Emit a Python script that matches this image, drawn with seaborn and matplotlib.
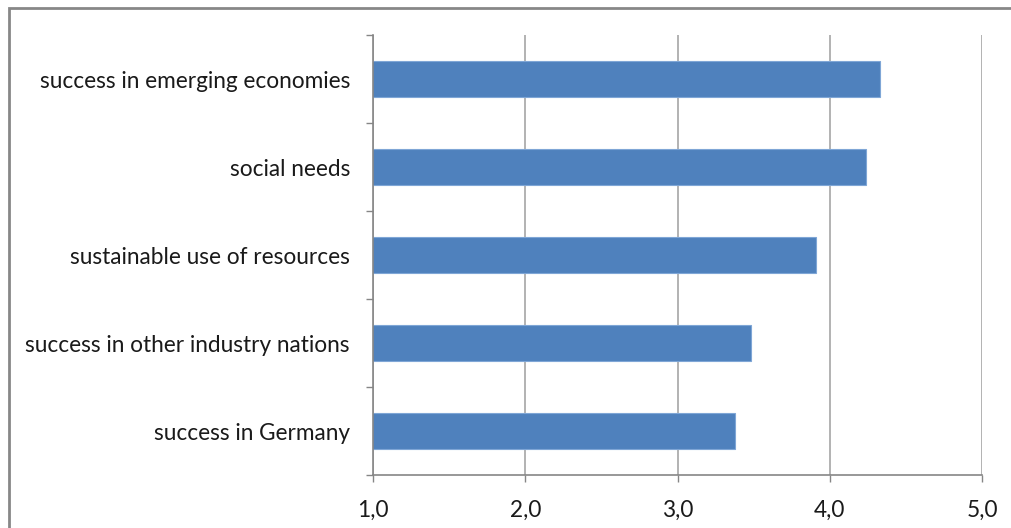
import matplotlib
matplotlib.use("Agg")
import matplotlib.pyplot as plt
from matplotlib.patches import Rectangle
import seaborn as sns
import pandas as pd
import numpy as np

categories = ["success in emerging economies", "social needs",
              "sustainable use of resources", "success in other industry nations",
              "success in Germany"]
values = [4.33, 4.24, 3.91, 3.48, 3.38]
xticks = [1.0, 2.0, 3.0, 4.0, 5.0]
xtick_labels = ["1,0", "2,0", "3,0", "4,0", "5,0"]

sns.set_theme(style="white")
plt.rcParams['font.family'] = ['Lato', 'DejaVu Sans']

W, H = 1012, 528
PX = 72 / 100  # points per pixel
fig = plt.figure(figsize=(W / 100, H / 100), dpi=100)
ax = fig.add_axes([373 / W, 1 - 475 / H, (982 - 373) / W, (475 - 35) / H])

df = pd.DataFrame({"cat": categories, "val": values})
sns.barplot(data=df, y="cat", x="val", orient="h", color="#4F81BD",
            width=0.4, edgecolor="#7FA6D6", linewidth=0.8, saturation=1, ax=ax)

ax.set_xlim(1, 5)
ax.set_ylim(4.5, -0.5)
ax.set_xlabel("")
ax.set_ylabel("")

grid_c = "#A6A6A6"
axis_c = "#868686"
text_c = "#1a1a1a"
fs = 16.3
ax.set_xticks(xticks)
ax.set_xticklabels(xtick_labels, fontsize=fs, color=text_c)
ax.xaxis.grid(True, color=grid_c, linewidth=1.2)
ax.set_axisbelow(True)
ax.tick_params(axis="x", bottom=True, length=7 * PX, width=1.0, color=axis_c,
               pad=18 * PX, direction="out")

ax.set_yticks(range(len(categories)))
ax.set_yticklabels(categories, fontsize=fs, color=text_c)
ax.set_yticks(np.arange(-0.5, len(categories), 1.0), minor=True)
ax.tick_params(axis="y", which="major", left=False, length=0, pad=23 * PX)
ax.tick_params(axis="y", which="minor", left=True, length=7 * PX, width=1.0,
               color=axis_c, direction="out")

for side in ["top", "right"]:
    ax.spines[side].set_visible(False)
for side in ["left", "bottom"]:
    ax.spines[side].set_color(axis_c)
    ax.spines[side].set_linewidth(1.2)

# outer chart border (its right and bottom edges lie off the canvas)
fig.patches.append(Rectangle((9.5 / W, -0.2), 1.2, 1.2 - 7.5 / H,
                             transform=fig.transFigure, fill=False,
                             edgecolor="#878787", linewidth=2.0, figure=fig))

fig.savefig("out.png", dpi=100, facecolor="white")
